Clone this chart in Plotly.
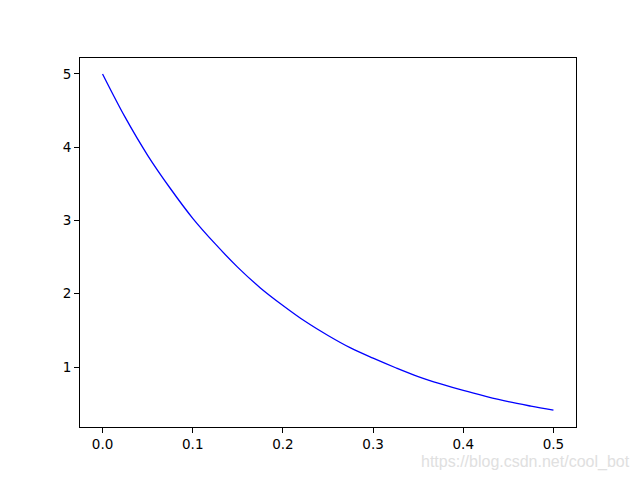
import plotly.graph_objects as go

# values
x_vals = [0.0, 0.025, 0.05, 0.075, 0.1, 0.125, 0.15, 0.175, 0.2, 0.225, 0.25,
          0.275, 0.3, 0.325, 0.35, 0.375, 0.4, 0.425, 0.45, 0.475, 0.5]
y_vals = [5.0, 4.41, 3.89, 3.44, 3.03, 2.68, 2.36, 2.08, 1.84, 1.62, 1.43,
          1.26, 1.12, 0.99, 0.87, 0.77, 0.68, 0.60, 0.527, 0.466, 0.41]

x_ticks = [0.0, 0.1, 0.2, 0.3, 0.4, 0.5]
x_tick_labels = ["0.0", "0.1", "0.2", "0.3", "0.4", "0.5"]
y_ticks = [1, 2, 3, 4, 5]

fig = go.Figure()
fig.add_trace(go.Scatter(
    x=x_vals, y=y_vals, mode="lines",
    line=dict(color="blue", width=1.3, shape="spline", smoothing=1.0),
    showlegend=False))

axis_style = dict(
    showline=True, linecolor="black", linewidth=1, mirror=True,
    ticks="outside", ticklen=5, tickcolor="black", tickwidth=1,
    showgrid=False, zeroline=False,
    tickfont=dict(family="DejaVu Sans", size=13.5, color="black"))

fig.update_xaxes(range=[-0.025, 0.525], tickvals=x_ticks, ticktext=x_tick_labels, **axis_style)
fig.update_yaxes(range=[0.181, 5.218], tickvals=y_ticks, **axis_style)

fig.add_annotation(
    text="https://blog.csdn.net/cool_bot", xref="paper", yref="paper",
    x=1.113, y=-0.095, xanchor="right", yanchor="middle", showarrow=False,
    font=dict(family="Liberation Sans", size=16, color="#e0e0e0"))

# page adds an 8px body margin, so the figure is a bit smaller than the window
fig.update_layout(
    width=632, height=472,
    margin=dict(l=72, r=64, t=50, b=53),
    paper_bgcolor="white", plot_bgcolor="white")

fig.write_html("out.html")
